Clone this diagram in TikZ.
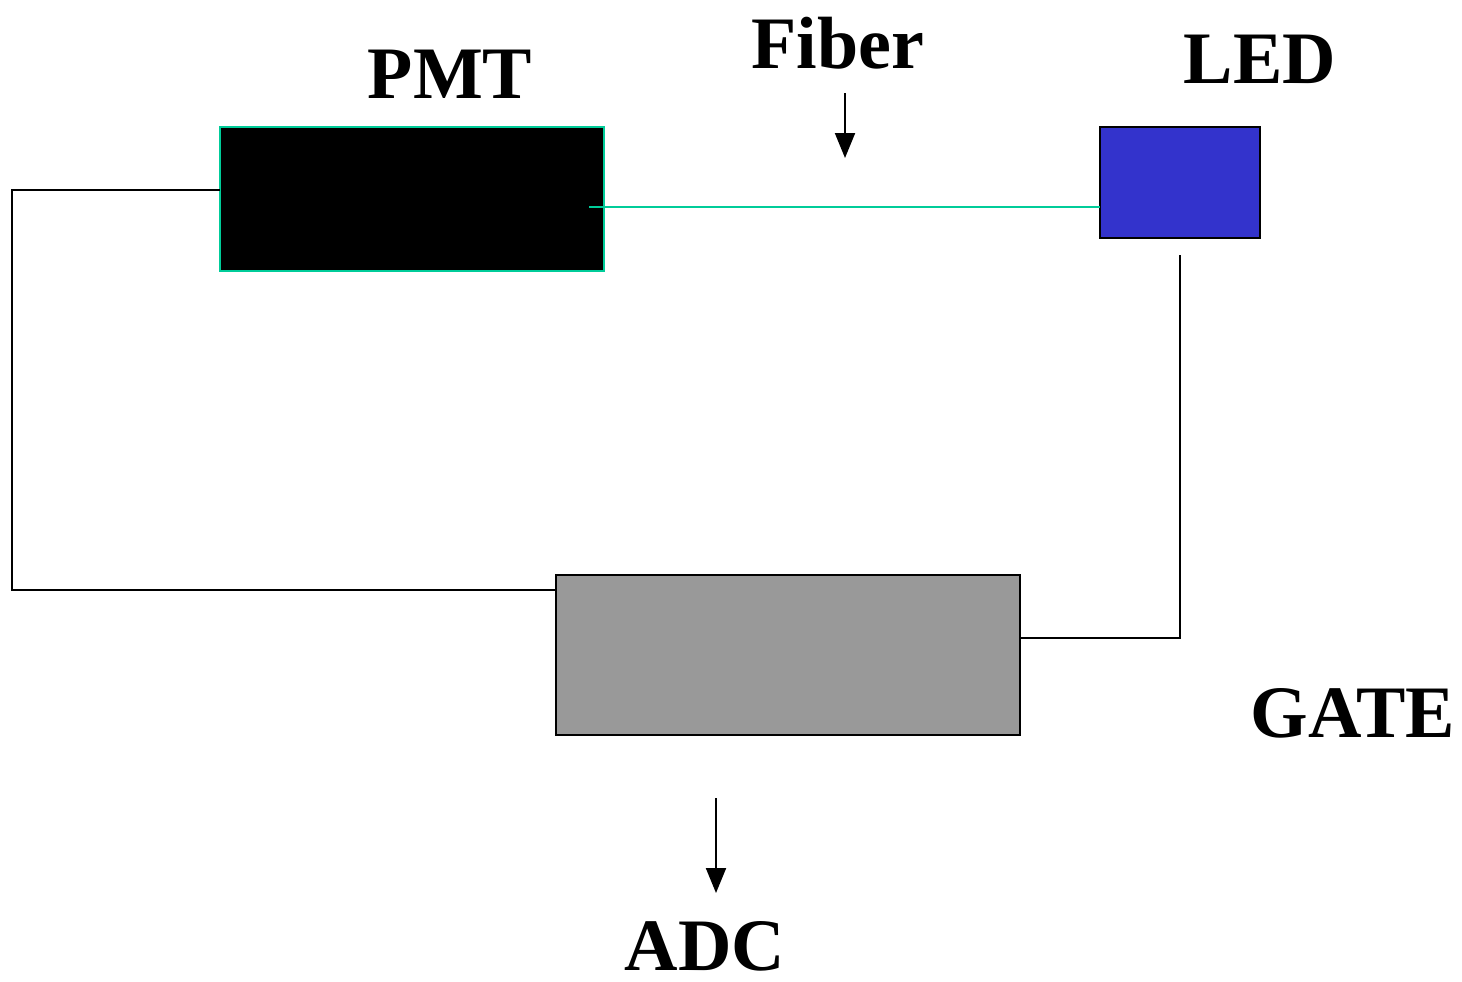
\documentclass[tikz,border=0pt]{standalone}
\usepackage{fontspec}
\setmainfont{Liberation Serif}
\usetikzlibrary{arrows.meta}
\definecolor{teal1}{HTML}{00CC99}
\definecolor{ledblue}{HTML}{3333CC}
\definecolor{adcgray}{HTML}{999999}
\begin{document}
\begin{tikzpicture}[x=0.5pt,y=-0.5pt,
  box/.style={rectangle,inner sep=0pt,outer sep=0pt,line width=1pt},
  wire/.style={line width=1pt,draw=black},
  fib/.style={line width=1pt,draw=teal1},
  lab/.style={font=\fontsize{37}{40}\selectfont\bfseries,inner sep=0pt},
  arr/.style={line width=1pt,-{Triangle[length=12.5pt,width=10pt]}}]
\useasboundingbox (0,0) rectangle (1462,981);
\node[box,fill=black,draw=teal1,minimum width=192pt,minimum height=72pt] (pmt) at (412,199) {};
\node[box,fill=ledblue,draw=black,minimum width=80pt,minimum height=55.5pt] (led) at (1180,182.5) {};
\node[box,fill=adcgray,draw=black,minimum width=232pt,minimum height=80pt] (gate) at (788,655) {};
\node[lab] (tpmt) at (450,74) {PMT};
\node[lab] (tfib) at (838,43) {Fiber};
\node[lab] (tled) at (1260,59) {LED};
\node[lab] (tgate) at (1353,713) {GATE};
\node[lab] (tadc) at (705,946) {ADC};
\coordinate (fs) at (589,207);
\draw[fib] (fs) -- (fs -| led.west);
\coordinate (ls) at (1180,255);
\coordinate (gi) at (1020,638);
\draw[wire] (ls) |- (gi);
\coordinate (po) at (220,190);
\coordinate (lc) at (12,190);
\coordinate (gl) at (556,590);
\draw[wire] (po) -- (lc) |- (gl);
\coordinate (fa1) at (845,93);
\coordinate (fa2) at (845,158);
\draw[arr] (fa1) -- (fa2);
\coordinate (aa1) at (716,798);
\coordinate (aa2) at (716,893);
\draw[arr] (aa1) -- (aa2);
\end{tikzpicture}
\end{document}
